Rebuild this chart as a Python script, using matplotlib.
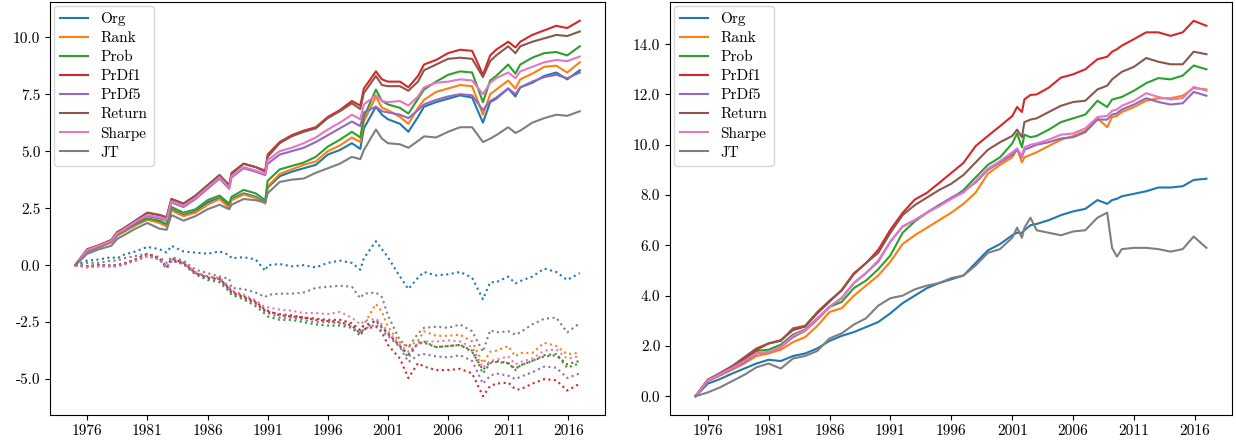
import numpy as np
import matplotlib
matplotlib.use("Agg")
import matplotlib.pyplot as plt
from matplotlib.ticker import FormatStrFormatter

plt.rcParams["font.family"] = "serif"
plt.rcParams["font.serif"] = ["cmr10", "DejaVu Serif"]
plt.rcParams["font.size"] = 11
plt.rcParams["mathtext.fontset"] = "cm"
plt.rcParams["axes.unicode_minus"] = False
plt.rcParams["axes.formatter.use_mathtext"] = True

labels = ["Org", "Rank", "Prob", "PrDf1", "PrDf5", "Return", "Sharpe", "JT"]
year_ticks = [1976, 1981, 1986, 1991, 1996, 2001, 2006, 2011, 2016]

# left panel: time grid (fractional years)
t_left = [1975, 1976, 1977, 1978, 1978.5, 1979, 1980, 1981, 1982, 1982.6,
          1983, 1984, 1985, 1986, 1987, 1987.8, 1988, 1989, 1990, 1990.8,
          1991, 1992, 1993, 1994, 1995, 1996, 1997, 1998, 1998.7, 1999,
          2000, 2000.5, 2001, 2002, 2002.7, 2003.5, 2004, 2005, 2006, 2007,
          2008, 2008.9, 2009.5, 2010, 2011, 2011.6, 2012, 2013, 2014, 2015,
          2015.9, 2016.95]

# left panel, solid lines
org_l = [0, 0.6, 0.8, 1.0, 1.3, 1.45, 1.75, 2.0, 1.9, 1.75,
         2.45, 2.2, 2.35, 2.75, 2.95, 2.6, 2.9, 3.15, 3.0, 2.75,
         3.4, 3.9, 4.1, 4.25, 4.4, 4.85, 5.05, 5.35, 5.1, 6.0,
         6.95, 6.6, 6.4, 6.2, 5.85, 6.5, 6.95, 7.15, 7.3, 7.45,
         7.35, 6.25, 7.15, 7.3, 7.75, 7.4, 7.8, 8.0, 8.3, 8.45,
         8.15, 8.55]
rank_l = [0, 0.6, 0.8, 1.0, 1.3, 1.45, 1.75, 2.0, 1.85, 1.7,
          2.4, 2.15, 2.3, 2.65, 2.9, 2.5, 2.85, 3.1, 2.95, 2.7,
          3.45, 4.0, 4.2, 4.4, 4.55, 5.0, 5.25, 5.6, 5.4, 6.3,
          7.4, 6.9, 6.8, 6.5, 6.2, 6.9, 7.25, 7.6, 7.75, 7.9,
          7.85, 6.6, 7.5, 7.7, 8.1, 7.75, 8.15, 8.4, 8.7, 8.75,
          8.45, 8.9]
prob_l = [0, 0.62, 0.82, 1.05, 1.35, 1.5, 1.8, 2.05, 1.95, 1.8,
          2.55, 2.3, 2.45, 2.85, 3.05, 2.7, 3.0, 3.3, 3.15, 2.85,
          3.7, 4.2, 4.35, 4.5, 4.75, 5.2, 5.5, 5.85, 5.6, 6.5,
          7.7, 7.2, 7.05, 6.9, 6.65, 7.3, 7.7, 8.05, 8.35, 8.5,
          8.45, 7.15, 8.1, 8.3, 8.8, 8.4, 8.8, 9.1, 9.3, 9.35,
          9.2, 9.6]
prdf1_l = [0, 0.7, 0.88, 1.1, 1.45, 1.6, 1.95, 2.3, 2.2, 2.1,
           2.9, 2.7, 3.05, 3.5, 3.95, 3.5, 4.05, 4.45, 4.3, 4.15,
           4.85, 5.4, 5.7, 5.9, 6.05, 6.5, 6.8, 7.2, 7.0, 7.75,
           8.5, 8.15, 8.05, 8.05, 7.8, 8.3, 8.8, 9.0, 9.3, 9.45,
           9.4, 8.35, 9.2, 9.45, 9.8, 9.55, 9.8, 10.1, 10.3, 10.5,
           10.4, 10.72]
prdf5_l = [0, 0.64, 0.84, 1.05, 1.38, 1.52, 1.85, 2.15, 2.05, 1.95,
           2.75, 2.55, 2.9, 3.35, 3.8, 3.35, 3.85, 4.25, 4.1, 3.95,
           4.45, 4.85, 5.0, 5.15, 5.4, 5.7, 6.0, 6.3, 6.1, 6.7,
           6.95, 6.75, 6.7, 6.6, 6.45, 6.8, 7.05, 7.25, 7.4, 7.5,
           7.45, 6.8, 7.2, 7.35, 7.75, 7.5, 7.8, 8.05, 8.25, 8.35,
           8.2, 8.45]
return_l = [0, 0.68, 0.88, 1.1, 1.45, 1.6, 1.95, 2.3, 2.2, 2.1,
            2.9, 2.7, 3.05, 3.5, 3.95, 3.5, 4.0, 4.45, 4.3, 4.1,
            4.75, 5.35, 5.65, 5.85, 6.0, 6.45, 6.75, 7.1, 6.85, 7.55,
            8.3, 7.9, 7.85, 7.85, 7.65, 8.05, 8.55, 8.8, 9.05, 9.1,
            9.05, 8.25, 8.95, 9.2, 9.6, 9.3, 9.6, 9.8, 9.95, 10.1,
            10.05, 10.25]
sharpe_l = [0, 0.66, 0.86, 1.07, 1.4, 1.55, 1.9, 2.2, 2.1, 2.0,
            2.8, 2.6, 2.95, 3.4, 3.85, 3.4, 3.9, 4.3, 4.15, 4.0,
            4.6, 5.0, 5.15, 5.35, 5.6, 5.95, 6.25, 6.6, 6.4, 7.05,
            7.45, 7.2, 7.15, 7.2, 7.0, 7.4, 7.8, 8.0, 8.05, 8.15,
            8.1, 7.5, 8.0, 8.2, 8.45, 8.2, 8.5, 8.7, 8.9, 9.0,
            8.95, 9.15]
jt_l = [0, 0.5, 0.7, 0.85, 1.15, 1.3, 1.6, 1.85, 1.6, 1.55,
        2.2, 1.95, 2.15, 2.45, 2.65, 2.45, 2.65, 2.9, 2.85, 2.75,
        3.15, 3.65, 3.75, 3.8, 4.05, 4.25, 4.45, 4.75, 4.65, 5.05,
        5.95, 5.55, 5.35, 5.3, 5.15, 5.45, 5.65, 5.6, 5.85, 6.05,
        6.05, 5.4, 5.55, 5.7, 6.05, 5.8, 5.9, 6.25, 6.45, 6.6,
        6.55, 6.75]

# left panel, dotted lines
org_d = [0, 0.2, 0.25, 0.35, 0.3, 0.45, 0.6, 0.8, 0.7, 0.55,
         0.85, 0.6, 0.55, 0.5, 0.6, 0.45, 0.3, 0.35, 0.25, -0.25,
         0.0, 0.05, -0.05, 0.0, -0.1, 0.1, 0.2, 0.1, -0.2, 0.3,
         1.05, 0.7, 0.35, -0.5, -1.05, -0.55, -0.3, -0.45, -0.4, -0.3,
         -0.55, -1.5, -0.75, -0.75, -0.5, -0.8, -0.7, -0.5, -0.15, -0.3,
         -0.65, -0.35]
rank_d = [0, -0.05, 0.0, -0.05, 0.0, 0.05, 0.25, 0.45, 0.3, -0.1,
          0.25, 0.1, -0.35, -0.55, -0.6, -1.05, -1.2, -1.4, -1.65, -2.0,
          -2.05, -2.15, -2.25, -2.3, -2.35, -2.45, -2.4, -2.55, -2.85, -2.6,
          -1.7, -2.05, -2.7, -3.4, -3.6, -3.3, -2.9, -3.1, -3.1, -3.05,
          -3.35, -4.3, -3.8, -3.75, -3.55, -4.0, -3.85, -3.85, -3.4, -3.55,
          -3.9, -3.85]
prob_d = [0, -0.05, 0.0, -0.05, -0.05, 0.05, 0.2, 0.4, 0.25, -0.15,
          0.2, 0.05, -0.4, -0.65, -0.75, -1.15, -1.3, -1.5, -1.8, -2.15,
          -2.25, -2.4, -2.4, -2.5, -2.6, -2.65, -2.65, -2.75, -3.1, -2.85,
          -2.4, -2.7, -3.0, -3.55, -4.05, -3.4, -3.35, -3.6, -3.55, -3.5,
          -3.75, -4.75, -4.3, -4.25, -4.3, -4.6, -4.4, -4.2, -3.95, -3.9,
          -4.5, -4.3]
prdf1_d = [0, -0.05, 0.0, -0.05, 0.0, 0.05, 0.25, 0.5, 0.3, -0.1,
           0.3, 0.1, -0.35, -0.5, -0.6, -1.0, -1.15, -1.35, -1.6, -1.95,
           -2.0, -2.2, -2.25, -2.3, -2.4, -2.45, -2.5, -2.65, -3.0, -2.8,
           -2.7, -2.95, -3.5, -4.1, -4.95, -4.3, -4.45, -4.6, -4.6, -4.55,
           -4.75, -5.75, -5.3, -5.2, -5.15, -5.45, -5.45, -5.2, -5.0, -5.05,
           -5.5, -5.2]
prdf5_d = [0, -0.1, -0.05, -0.05, 0.0, 0.05, 0.2, 0.4, 0.25, -0.15,
           0.2, 0.05, -0.4, -0.6, -0.65, -1.1, -1.25, -1.45, -1.7, -2.05,
           -2.1, -2.3, -2.3, -2.4, -2.5, -2.5, -2.55, -2.7, -3.0, -2.8,
           -2.6, -2.9, -3.1, -3.6, -4.25, -3.95, -3.9, -4.0, -4.05, -3.95,
           -4.2, -5.2, -4.85, -4.75, -4.85, -5.0, -4.9, -4.7, -4.45, -4.5,
           -4.95, -4.75]
return_d = [0, -0.05, 0.0, 0.0, 0.0, 0.05, 0.25, 0.45, 0.3, -0.1,
            0.25, 0.1, -0.35, -0.55, -0.6, -1.05, -1.2, -1.4, -1.65, -2.0,
            -2.05, -2.15, -2.2, -2.3, -2.35, -2.4, -2.4, -2.55, -2.85, -2.65,
            -2.45, -2.75, -3.0, -3.55, -3.9, -3.45, -3.4, -3.6, -3.55, -3.5,
            -3.8, -4.6, -4.25, -4.2, -4.3, -4.55, -4.4, -4.2, -4.0, -3.95,
            -4.35, -4.2]
sharpe_d = [0, -0.1, -0.05, -0.05, -0.05, 0.0, 0.2, 0.4, 0.25, -0.1,
            0.2, 0.1, -0.3, -0.5, -0.55, -0.95, -1.1, -1.3, -1.55, -1.85,
            -1.85, -1.95, -2.0, -2.1, -2.1, -2.15, -2.05, -2.3, -2.6, -2.45,
            -2.35, -2.6, -2.9, -3.5, -3.8, -3.45, -3.35, -3.35, -3.3, -3.35,
            -3.6, -4.5, -4.2, -4.15, -4.0, -4.35, -4.25, -4.1, -3.75, -3.7,
            -4.1, -4.0]
jt_d = [0, 0.1, 0.1, 0.2, 0.2, 0.3, 0.4, 0.5, 0.35, 0.1,
        0.35, 0.2, -0.2, -0.35, -0.5, -0.6, -1.0, -1.05, -1.2, -1.4,
        -1.3, -1.25, -1.25, -1.2, -1.0, -0.95, -0.9, -0.95, -1.45, -1.25,
        -1.2, -1.4, -2.2, -3.3, -3.6, -3.0, -2.75, -2.7, -2.75, -2.6,
        -2.9, -3.8, -2.85, -2.95, -2.9, -3.05, -2.95, -2.6, -2.35, -2.3,
        -2.95, -2.55]

# right panel: time grid
t_right = [1975, 1976, 1977, 1978, 1979, 1980, 1981, 1982, 1983, 1984,
           1985, 1986, 1987, 1988, 1989, 1990, 1991, 1992, 1993, 1994,
           1995, 1996, 1997, 1998, 1999, 2000, 2001, 2001.4, 2001.8, 2002,
           2002.5, 2003, 2004, 2005, 2006, 2007, 2008, 2008.8, 2009.2, 2009.6,
           2010, 2011, 2012, 2013, 2014, 2015, 2015.9, 2016.95]

org_r = [0, 0.5, 0.68, 0.9, 1.1, 1.3, 1.45, 1.4, 1.6, 1.7,
         1.9, 2.2, 2.4, 2.55, 2.75, 2.95, 3.3, 3.7, 4.0, 4.3,
         4.5, 4.65, 4.8, 5.3, 5.8, 6.05, 6.4, 6.5, 6.5, 6.6,
         6.8, 6.85, 7.0, 7.2, 7.35, 7.45, 7.8, 7.65, 7.8, 7.85,
         7.95, 8.05, 8.15, 8.3, 8.3, 8.35, 8.6, 8.65]
rank_r = [0, 0.6, 0.82, 1.05, 1.3, 1.6, 1.7, 1.85, 2.15, 2.35,
          2.8, 3.35, 3.5, 4.0, 4.4, 4.8, 5.35, 6.05, 6.4, 6.7,
          7.0, 7.3, 7.65, 8.1, 8.85, 9.2, 9.5, 9.85, 9.3, 9.5,
          9.6, 9.7, 9.95, 10.2, 10.35, 10.55, 11.05, 10.7, 11.1, 11.15,
          11.3, 11.5, 11.75, 11.85, 11.85, 11.95, 12.25, 12.2]
prob_r = [0, 0.62, 0.88, 1.15, 1.45, 1.8, 1.85, 2.05, 2.45, 2.65,
          3.1, 3.55, 3.75, 4.3, 4.6, 5.05, 5.6, 6.5, 6.95, 7.3,
          7.6, 7.85, 8.2, 8.7, 9.2, 9.5, 10.05, 10.45, 9.9, 10.4,
          10.3, 10.35, 10.6, 10.9, 11.05, 11.2, 11.75, 11.5, 11.8, 11.85,
          11.9, 12.15, 12.45, 12.65, 12.6, 12.75, 13.15, 13.0]
prdf1_r = [0, 0.64, 0.9, 1.17, 1.5, 1.84, 2.1, 2.23, 2.63, 2.77,
           3.3, 3.76, 4.23, 4.89, 5.29, 5.82, 6.62, 7.29, 7.82, 8.09,
           8.48, 8.88, 9.28, 9.95, 10.35, 10.74, 11.14, 11.5, 11.3, 11.8,
           11.98, 12.0, 12.27, 12.67, 12.8, 13.0, 13.4, 13.5, 13.7, 13.8,
           13.94, 14.2, 14.47, 14.47, 14.33, 14.47, 14.93, 14.73]
prdf5_r = [0, 0.62, 0.85, 1.1, 1.35, 1.7, 1.75, 1.95, 2.35, 2.6,
           3.05, 3.55, 3.9, 4.5, 4.9, 5.35, 6.15, 6.75, 7.0, 7.3,
           7.6, 7.9, 8.15, 8.5, 9.0, 9.3, 9.6, 9.8, 9.5, 9.8,
           9.9, 10.0, 10.1, 10.25, 10.3, 10.5, 11.0, 11.0, 11.2, 11.25,
           11.4, 11.6, 11.85, 11.7, 11.6, 11.65, 12.1, 11.95]
return_r = [0, 0.66, 0.92, 1.2, 1.55, 1.9, 2.1, 2.2, 2.7, 2.8,
            3.35, 3.8, 4.2, 4.85, 5.3, 5.7, 6.5, 7.2, 7.6, 7.9,
            8.2, 8.45, 8.8, 9.3, 9.8, 10.1, 10.35, 10.6, 10.3, 10.9,
            11.0, 11.05, 11.3, 11.55, 11.7, 11.75, 12.2, 12.35, 12.6, 12.75,
            12.9, 13.1, 13.45, 13.3, 13.2, 13.2, 13.7, 13.6]
sharpe_r = [0, 0.63, 0.87, 1.12, 1.4, 1.72, 1.75, 1.97, 2.4, 2.62,
            3.1, 3.55, 3.92, 4.5, 4.9, 5.4, 6.15, 6.75, 7.0, 7.3,
            7.55, 7.85, 8.1, 8.55, 9.05, 9.35, 9.7, 9.85, 9.55, 9.9,
            10.0, 10.05, 10.2, 10.4, 10.45, 10.65, 11.1, 11.15, 11.35, 11.4,
            11.55, 11.75, 12.05, 11.9, 11.8, 11.85, 12.3, 12.15]
jt_r = [0, 0.15, 0.35, 0.6, 0.85, 1.15, 1.3, 1.1, 1.5, 1.6,
        1.8, 2.3, 2.5, 2.85, 3.1, 3.6, 3.9, 4.0, 4.25, 4.4,
        4.5, 4.7, 4.8, 5.2, 5.7, 5.85, 6.3, 6.7, 6.3, 6.7,
        7.1, 6.6, 6.5, 6.4, 6.55, 6.6, 7.1, 7.3, 5.9, 5.55,
        5.85, 5.9, 5.9, 5.85, 5.75, 5.85, 6.35, 5.9]

solid_left = [org_l, rank_l, prob_l, prdf1_l, prdf5_l, return_l, sharpe_l, jt_l]
dotted_left = [org_d, rank_d, prob_d, prdf1_d, prdf5_d, return_d, sharpe_d, jt_d]
solid_right = [org_r, rank_r, prob_r, prdf1_r, prdf5_r, return_r, sharpe_r, jt_r]


def style_axis(ax):
    """Common tick formatting and legend for both panels"""
    ax.set_xticks(year_ticks)
    ax.set_xticklabels([str(y) for y in year_ticks])
    ax.yaxis.set_major_formatter(FormatStrFormatter("%.1f"))
    ax.legend(loc="upper left", labelspacing=0.35, handlelength=1.85,
              borderaxespad=0.25)


fig = plt.figure(figsize=(12.36, 4.45), dpi=100)
ax1 = fig.add_axes([50 / 1236, 30 / 445, 555 / 1236, 413 / 445])
ax2 = fig.add_axes([670 / 1236, 30 / 445, 562 / 1236, 413 / 445])

# left: cumulative returns (solid) and the dotted companions
for i, (name, ys) in enumerate(zip(labels, solid_left)):
    ax1.plot(t_left, ys, color=f"C{i}", label=name)
for i, ys in enumerate(dotted_left):
    ax1.plot(t_left, ys, color=f"C{i}", linestyle=":")
style_axis(ax1)

# right panel
for i, (name, ys) in enumerate(zip(labels, solid_right)):
    ax2.plot(t_right, ys, color=f"C{i}", label=name)
style_axis(ax2)

fig.savefig("out.png", dpi=100)
plt.close(fig)
